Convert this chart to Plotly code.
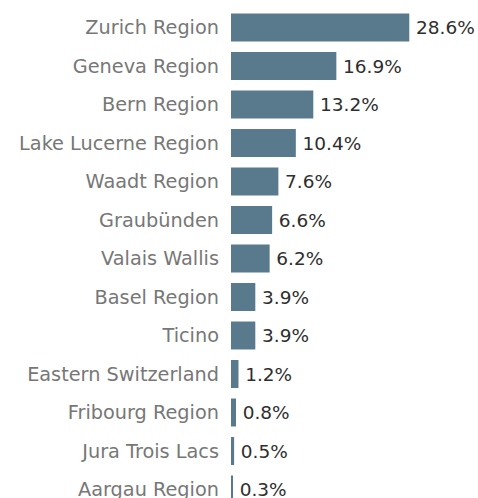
import plotly.graph_objects as go

# Share of overnight stays by Swiss tourism region (%)
regions = [
    "Zurich Region", "Geneva Region", "Bern Region", "Lake Lucerne Region",
    "Waadt Region", "Graubünden", "Valais Wallis", "Basel Region", "Ticino",
    "Eastern Switzerland", "Fribourg Region", "Jura Trois Lacs", "Aargau Region",
]
shares = [28.6, 16.9, 13.2, 10.4, 7.6, 6.6, 6.2, 3.9, 3.9, 1.2, 0.8, 0.5, 0.3]

W, H = 478, 498
left = 231
px_per_unit = 6.234
row_step = 38.5
first_row = 27.5

fig = go.Figure(
    go.Bar(
        x=shares,
        y=regions,
        orientation="h",
        marker=dict(color="#587a8c", line=dict(width=0)),
        # thin space keeps the value label a little clear of the bar end
        texttemplate="\u2009%{x:.1f}%",
        textposition="outside",
        textfont=dict(family="DejaVu Sans", size=18.5, color="#2e2e2e"),
        cliponaxis=False,
        hoverinfo="skip",
    )
)

fig.update_layout(
    width=W,
    height=H,
    margin=dict(l=left, r=0, t=0, b=0),
    paper_bgcolor="white",
    plot_bgcolor="white",
    bargap=0.273,
    showlegend=False,
    xaxis=dict(
        range=[0, (W - left) / px_per_unit],
        visible=False,
        fixedrange=True,
    ),
    yaxis=dict(
        type="category",
        range=[(H - first_row) / row_step, -first_row / row_step],
        showgrid=False,
        zeroline=False,
        showline=False,
        ticks="",
        ticklabelstandoff=11,
        tickfont=dict(family="DejaVu Sans", size=19.3, color="#777777"),
        automargin=False,
        fixedrange=True,
    ),
)

fig.write_html("out.html")
